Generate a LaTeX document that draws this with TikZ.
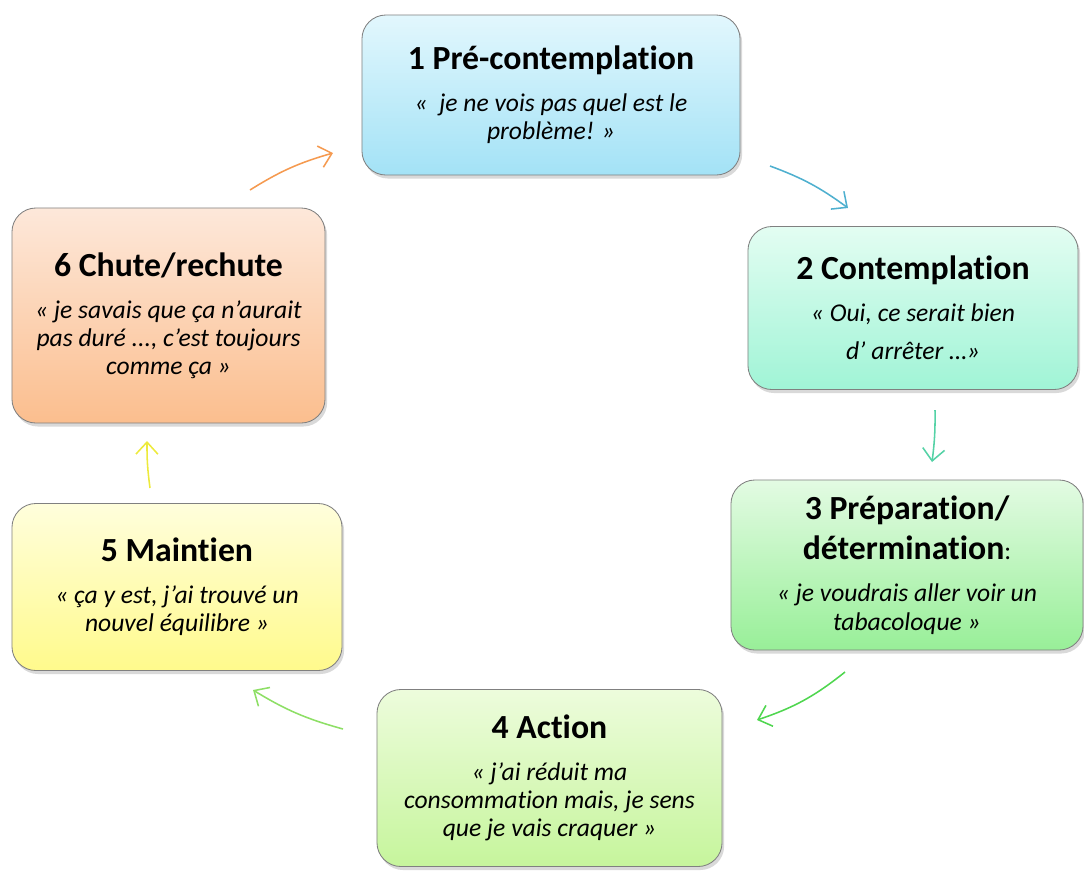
\documentclass[tikz,border=0pt]{standalone}
\usepackage{fontspec}
\setmainfont{Carlito}[Ligatures=NoCommon]
\usepackage{tikz}
\usetikzlibrary{positioning,shadows,arrows.meta}

\definecolor{blueT}{HTML}{E2F7FD}\definecolor{blueB}{HTML}{A3E2F6}
\definecolor{aquaT}{HTML}{E3FDF2}\definecolor{aquaB}{HTML}{A0F4D6}
\definecolor{grnT}{HTML}{E3FBE3}\definecolor{grnB}{HTML}{98EF98}
\definecolor{limeT}{HTML}{EDFCDC}\definecolor{limeB}{HTML}{C6F59C}
\definecolor{yelT}{HTML}{FFFEDC}\definecolor{yelB}{HTML}{FFFA8C}
\definecolor{orT}{HTML}{FDE8DA}\definecolor{orB}{HTML}{FBBE8E}
\definecolor{arBlue}{HTML}{4FB0CF}\definecolor{arAqua}{HTML}{55D2A6}
\definecolor{arGrn}{HTML}{4FD64F}\definecolor{arLime}{HTML}{8EDF66}
\definecolor{arYel}{HTML}{EDEA3C}\definecolor{arOr}{HTML}{F59A50}

\newcommand{\stagetitle}[1]{{\upshape\bfseries\fontsize{24}{27}\selectfont #1}}

\begin{document}
\begin{tikzpicture}[x=0.025cm,y=-0.025cm,
  stage/.style={rounded corners=0.6cm, draw=black!50, line width=0.6pt,
    align=center, inner sep=0pt,
    font=\fontsize{18.2}{20}\selectfont\itshape,
    drop shadow={opacity=0.3,shadow xshift=1.5pt,shadow yshift=-2.5pt}},
  cyc/.style={line width=1.1pt, -{Straight Barb[length=3mm,width=5.5mm]}}]
\useasboundingbox (0,0) rectangle (1084,870);

\node[stage, top color=blueT, bottom color=blueB,
  minimum width=9.45cm, minimum height=4cm] (s_1) at (551,95)
  {\stagetitle{1 Pré-contemplation}\\[10pt]
   «\ \ je ne vois pas quel est le\\ problème! »};
\node[stage, top color=aquaT, bottom color=aquaB,
  minimum width=8.25cm, minimum height=4.075cm] (s_2) at (913,308)
  {\stagetitle{2 Contemplation}\\[10pt]
   « Oui, ce serait bien\\[7pt] d’ arrêter …»};
\node[stage, top color=grnT, bottom color=grnB,
  minimum width=8.8cm, minimum height=4.25cm] (s_3) at (907,565)
  {\stagetitle{3 Préparation/}\\[7pt]
   \stagetitle{détermination}{\upshape:}\\[10pt]
   « je voudrais aller voir un\\ tabacoloque »};
\node[stage, top color=limeT, bottom color=limeB,
  minimum width=8.625cm, minimum height=4.425cm] (s_4) at (549.5,778)
  {\stagetitle{4 Action}\\[10pt]
   « j’ai réduit ma\\ consommation mais, je sens\\ que je vais craquer »};
\node[stage, top color=yelT, bottom color=yelB,
  minimum width=8.25cm, minimum height=4.175cm] (s_5) at (177,587)
  {\stagetitle{5 Maintien}\\[10pt]
   « ça y est, j’ai trouvé un\\ nouvel équilibre »};
\node[stage, top color=orT, bottom color=orB,
  minimum width=7.825cm, minimum height=5.375cm] (s_6) at (168.5,315.5)
  {\stagetitle{6 Chute/rechute}\\[10pt]
   « je savais que ça n’aurait\\ pas duré ..., c'est toujours\\ comme ça »};

\coordinate (p_1) at (770,166); \coordinate (q_1) at (848,208);
\coordinate (p_2) at (935,410); \coordinate (q_2) at (932,462);
\coordinate (p_3) at (845,672); \coordinate (q_3) at (757,720);
\coordinate (p_4) at (343,729); \coordinate (q_4) at (253,690);
\coordinate (p_5) at (150,488); \coordinate (q_5) at (147,441);
\coordinate (p_6) at (250,190); \coordinate (q_6) at (333,153);

\path[cyc]
(p_1) edge [bend left=8, arBlue] (q_1)
(p_2) edge [bend left=4, arAqua] (q_2)
(p_3) edge [bend left=10, arGrn] (q_3)
(p_4) edge [bend left=8, arLime] (q_4)
(p_5) edge [bend left=4, arYel] (q_5)
(p_6) edge [bend left=8, arOr] (q_6)
; %end path
\end{tikzpicture}
\end{document}
